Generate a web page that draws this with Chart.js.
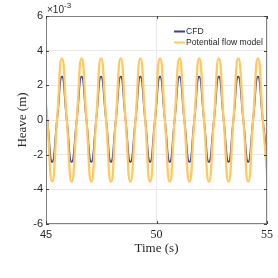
<!DOCTYPE html>
<html><head><meta charset="utf-8">
<script src="https://cdn.jsdelivr.net/npm/chart.js@4"></script>
<style>html,body{margin:0;padding:0;background:#fff;overflow:hidden}#wrap{width:278px;height:278px;position:relative}</style>
</head><body>
<div id="wrap"><canvas id="c"></canvas></div>
<script>
// Time (s): peaks, zero crossings and troughs
const time = [44.83, 45.06, 45.28, 45.50, 45.72, 45.94, 46.16, 46.39, 46.61, 46.83,
  47.05, 47.27, 47.49, 47.72, 47.94, 48.16, 48.38, 48.60, 48.82, 49.05,
  49.27, 49.49, 49.71, 49.93, 50.16, 50.38, 50.60, 50.82, 51.04, 51.26,
  51.49, 51.71, 51.93, 52.15, 52.37, 52.60, 52.82, 53.04, 53.26, 53.48,
  53.70, 53.93, 54.15, 54.37, 54.59, 54.81, 55.03];
// Heave (m)
const cfd = [0.00250, 0, -0.00242, 0, 0.00250, 0, -0.00242, 0, 0.00250, 0,
  -0.00242, 0, 0.00250, 0, -0.00242, 0, 0.00250, 0, -0.00242, 0,
  0.00250, 0, -0.00242, 0, 0.00250, 0, -0.00242, 0, 0.00250, 0,
  -0.00242, 0, 0.00250, 0, -0.00242, 0, 0.00250, 0, -0.00242, 0,
  0.00250, 0, -0.00242, 0, 0.00250, 0, -0.00242];
const potentialFlow = [0.00355, 0, -0.00355, 0, 0.00355, 0, -0.00355, 0, 0.00355, 0,
  -0.00355, 0, 0.00355, 0, -0.00355, 0, 0.00355, 0, -0.00355, 0,
  0.00355, 0, -0.00355, 0, 0.00355, 0, -0.00355, 0, 0.00355, 0,
  -0.00355, 0, 0.00355, 0, -0.00355, 0, 0.00355, 0, -0.00355, 0,
  0.00355, 0, -0.00355, 0, 0.00355, 0, -0.00355];
const seriesLabels = ['CFD', 'Potential flow model'];
const xTicks = [45, 50, 55];
const yTicks = [-0.006, -0.004, -0.002, 0, 0.002, 0.004, 0.006];

const BLUE = '#3a3f9e';
const YELLOW = '#ffc95e';
const TXT = '#262626';
const SANS = "'Liberation Sans', Arial, sans-serif";
const SERIF = "'Liberation Serif', 'Times New Roman', serif";

const extras = {
  id: 'extras',
  afterDraw(chart) {
    const ctx = chart.ctx, a = chart.chartArea;
    const xs = chart.scales.x, ys = chart.scales.y;
    ctx.save();
    // box
    ctx.strokeStyle = '#808080';
    ctx.lineWidth = 1;
    ctx.strokeRect(Math.round(a.left) + 0.5, Math.round(a.top) + 0.5,
      Math.round(a.right - a.left) - 1, Math.round(a.bottom - a.top) - 1);
    // inward ticks
    ctx.strokeStyle = '#404040';
    ctx.beginPath();
    xs.ticks.forEach(t => {
      const px = Math.round(xs.getPixelForValue(t.value)) + 0.5;
      ctx.moveTo(px, a.bottom); ctx.lineTo(px, a.bottom - 3);
      ctx.moveTo(px, a.top); ctx.lineTo(px, a.top + 3);
    });
    ys.ticks.forEach(t => {
      const py = Math.round(ys.getPixelForValue(t.value)) + 0.5;
      ctx.moveTo(a.left, py); ctx.lineTo(a.left + 3, py);
      ctx.moveTo(a.right, py); ctx.lineTo(a.right - 3, py);
    });
    ctx.stroke();
    // exponent label
    ctx.fillStyle = TXT;
    ctx.textBaseline = 'alphabetic';
    ctx.textAlign = 'left';
    ctx.font = '10px ' + SANS;
    const base = '\u00d710';
    ctx.fillText(base, a.left + 1, 13);
    const w = ctx.measureText(base).width;
    ctx.font = '8px ' + SANS;
    ctx.fillText('-3', a.left + 1 + w, 8);
    // legend
    ctx.font = '8.6px ' + SANS;
    ctx.textBaseline = 'middle';
    const colors = [BLUE, YELLOW];
    seriesLabels.forEach((lab, i) => {
      const y = 31.5 + i * 11;
      ctx.strokeStyle = colors[i];
      ctx.lineWidth = 2;
      ctx.beginPath(); ctx.moveTo(174, y); ctx.lineTo(185, y); ctx.stroke();
      ctx.fillStyle = TXT;
      ctx.fillText(lab, 186, y + 0.5);
    });
    ctx.restore();
  }
};

new Chart(document.getElementById('c'), {
  type: 'line',
  data: {
    datasets: [
      { label: seriesLabels[0], data: time.map((t, i) => ({ x: t, y: cfd[i] })),
        borderColor: BLUE, borderWidth: 1.8, pointRadius: 0, tension: 0.55, order: 1 },
      { label: seriesLabels[1], data: time.map((t, i) => ({ x: t, y: potentialFlow[i] })),
        borderColor: YELLOW, borderWidth: 2.3, pointRadius: 0, tension: 0.55, order: 0 }
    ]
  },
  options: {
    responsive: true, maintainAspectRatio: false, animation: false,
    layout: { padding: { top: 16, right: 11, left: 0, bottom: 0 } },
    plugins: { legend: { display: false }, tooltip: { enabled: false } },
    scales: {
      x: {
        type: 'linear', min: 45, max: 55,
        afterBuildTicks: s => { s.ticks = xTicks.map(v => ({ value: v })); },
        afterFit: s => { s.height = 54; },
        grid: { color: '#e9e9e9', drawTicks: false },
        border: { display: false },
        ticks: {
          padding: 4, color: TXT,
          font: ctx => (ctx.tick && ctx.tick.value === 45) ? { family: SANS, size: 11 } : { family: SERIF, size: 12 },
          callback: v => String(v)
        },
        title: { display: true, text: 'Time (s)', color: TXT, font: { family: SERIF, size: 13 }, padding: { top: 0, bottom: 22 } }
      },
      y: {
        min: -0.006, max: 0.006,
        afterBuildTicks: s => { s.ticks = yTicks.map(v => ({ value: v })); },
        afterFit: s => { s.width = 46; },
        grid: { color: '#e9e9e9', drawTicks: false },
        border: { display: false },
        ticks: { padding: 3, color: TXT, font: { family: SANS, size: 11 }, callback: v => String(Math.round(v * 1000)) },
        title: { display: true, text: 'Heave (m)', color: TXT, font: { family: SERIF, size: 13 }, padding: { top: 15, bottom: 0 } }
      }
    }
  },
  plugins: [extras]
});
</script>
</body></html>
